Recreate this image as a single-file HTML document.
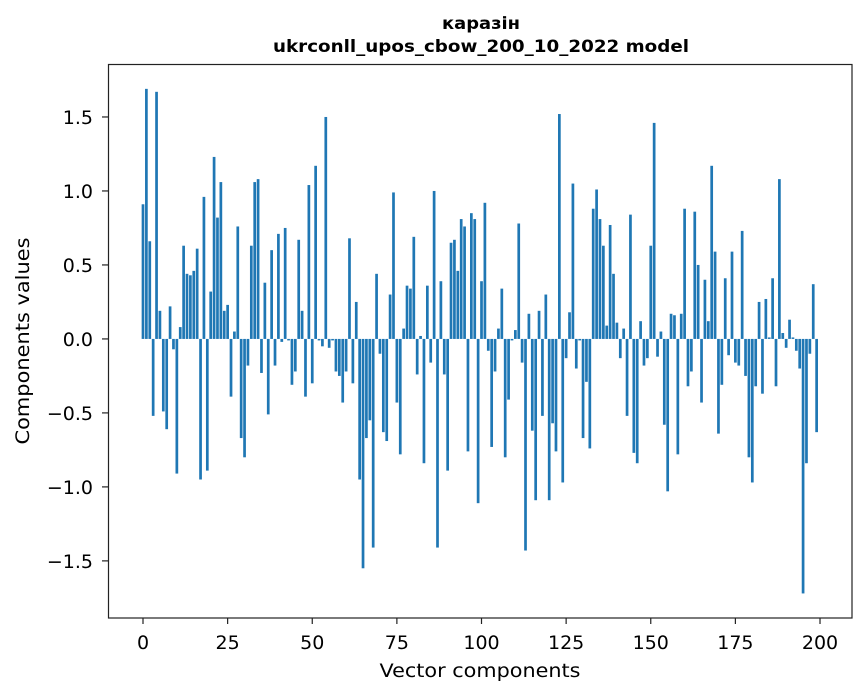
<!DOCTYPE html>
<html><head><meta charset="utf-8"><style>
html,body{margin:0;padding:0;background:#fff;}
svg{display:block;font-family:"DejaVu Sans","Liberation Sans",sans-serif;}
</style></head><body>
<svg id="chart" width="867" height="696" viewBox="0 0 867 696" xmlns="http://www.w3.org/2000/svg">
<rect width="867" height="696" fill="#fff"/>
<text x="481" y="29" text-anchor="middle" font-size="17" font-weight="bold" textLength="78" lengthAdjust="spacingAndGlyphs">каразін</text>
<text x="481" y="52" text-anchor="middle" font-size="17" font-weight="bold" textLength="416" lengthAdjust="spacingAndGlyphs">ukrconll_upos_cbow_200_10_2022 model</text>
<g id="bars"></g>
<g id="xticks"></g>
<g id="yticks"></g>
<rect x="108.5" y="64.5" width="743.5" height="553.5" fill="none" stroke="#222" stroke-width="1.2"/>
<text x="480" y="677" text-anchor="middle" font-size="19" textLength="201" lengthAdjust="spacingAndGlyphs">Vector components</text>
<text x="0" y="0" transform="translate(29,341) rotate(-90)" text-anchor="middle" font-size="19" textLength="207" lengthAdjust="spacingAndGlyphs">Components values</text>
</svg>
<script>
const values = [0.91,1.69,0.66,-0.52,1.67,0.19,-0.49,-0.61,0.22,-0.07,-0.91,0.08,0.63,0.44,0.43,0.46,0.61,-0.95,0.96,-0.89,0.32,1.23,0.82,1.06,0.19,
0.23,-0.39,0.05,0.76,-0.67,-0.80,-0.18,0.63,1.06,1.08,-0.23,0.38,-0.51,0.60,-0.18,0.71,-0.02,0.75,-0.01,-0.31,-0.22,0.67,0.19,-0.39,1.04,
-0.30,1.17,-0.01,-0.05,1.50,-0.06,-0.01,-0.22,-0.25,-0.43,-0.22,0.68,-0.30,0.25,-0.95,-1.55,-0.67,-0.55,-1.41,0.44,-0.10,-0.63,-0.69,0.30,0.99,
-0.43,-0.78,0.07,0.36,0.34,0.69,-0.24,0.02,-0.84,0.36,-0.16,1.00,-1.41,0.39,-0.24,-0.89,0.65,0.67,0.46,0.81,0.76,-0.76,0.85,0.81,-1.11,
0.39,0.92,-0.08,-0.73,-0.22,0.07,0.34,-0.80,-0.41,-0.01,0.06,0.78,-0.16,-1.43,0.17,-0.62,-1.09,0.19,-0.52,0.30,-1.09,-0.57,-0.76,1.52,-0.97,
-0.13,0.18,1.05,-0.20,-0.01,-0.67,-0.29,-0.74,0.88,1.01,0.81,0.63,0.09,0.77,0.44,0.11,-0.13,0.07,-0.52,0.84,-0.77,-0.84,0.12,-0.18,-0.13,
0.63,1.46,-0.12,0.05,-0.58,-1.03,0.17,0.16,-0.78,0.17,0.88,-0.32,-0.22,0.86,0.50,-0.43,0.40,0.12,1.17,0.59,-0.64,-0.31,0.41,-0.11,0.59,
-0.16,-0.18,0.73,-0.25,-0.80,-0.97,-0.32,0.25,-0.37,0.27,0.01,0.41,-0.32,1.08,0.04,-0.06,0.13,0.01,-0.08,-0.20,-1.72,-0.84,-0.10,0.37,-0.63];
const xTickValues = [0,25,50,75,100,125,150,175,200];
const yTickValues = [-1.5,-1.0,-0.5,0.0,0.5,1.0,1.5];

const NS = "http://www.w3.org/2000/svg";
const L=108,R=852,T=64,B=618;
const xMin=-10.34,xMax=209.45;
const yMin=-1.886,yMax=1.858;
function xs(v){return L+(v-xMin)/(xMax-xMin)*(R-L);}
function ys(v){return T+(yMax-v)/(yMax-yMin)*(B-T);}

const gb=document.getElementById('bars');
values.forEach((v,i)=>{
  const r=document.createElementNS(NS,'rect');
  const x0=xs(i-0.4),x1=xs(i+0.4);
  const y0=ys(Math.max(v,0)),y1=ys(Math.min(v,0));
  r.setAttribute('x',x0);r.setAttribute('width',x1-x0);
  r.setAttribute('y',y0);r.setAttribute('height',Math.max(y1-y0,0.3));
  r.setAttribute('fill','#1f77b4');
  
  
  gb.appendChild(r);
});
const gx=document.getElementById('xticks');
xTickValues.forEach(t=>{
  const x=xs(t);
  const l=document.createElementNS(NS,'line');
  l.setAttribute('x1',x);l.setAttribute('x2',x);l.setAttribute('y1',B);l.setAttribute('y2',B+6);
  l.setAttribute('stroke','#222');l.setAttribute('stroke-width','1.2');
  
  
  gx.appendChild(l);
  const tx=document.createElementNS(NS,'text');
  tx.setAttribute('x',x);tx.setAttribute('y',649);
  tx.setAttribute('text-anchor','middle');tx.setAttribute('font-size','19');
  tx.textContent=String(t);
  
  
  gx.appendChild(tx);
});
const gy=document.getElementById('yticks');
yTickValues.forEach(t=>{
  const y=ys(t);
  const l=document.createElementNS(NS,'line');
  l.setAttribute('x1',L-6);l.setAttribute('x2',L);l.setAttribute('y1',y);l.setAttribute('y2',y);
  l.setAttribute('stroke','#222');l.setAttribute('stroke-width','1.2');
  
  
  gy.appendChild(l);
  const tx=document.createElementNS(NS,'text');
  tx.setAttribute('x',L-15);tx.setAttribute('y',y+7);
  tx.setAttribute('text-anchor','end');tx.setAttribute('font-size','19');
  tx.textContent=(t<0?'\u2212':'')+Math.abs(t).toFixed(1);
  
  
  gy.appendChild(tx);
});
</script>
</body></html>
